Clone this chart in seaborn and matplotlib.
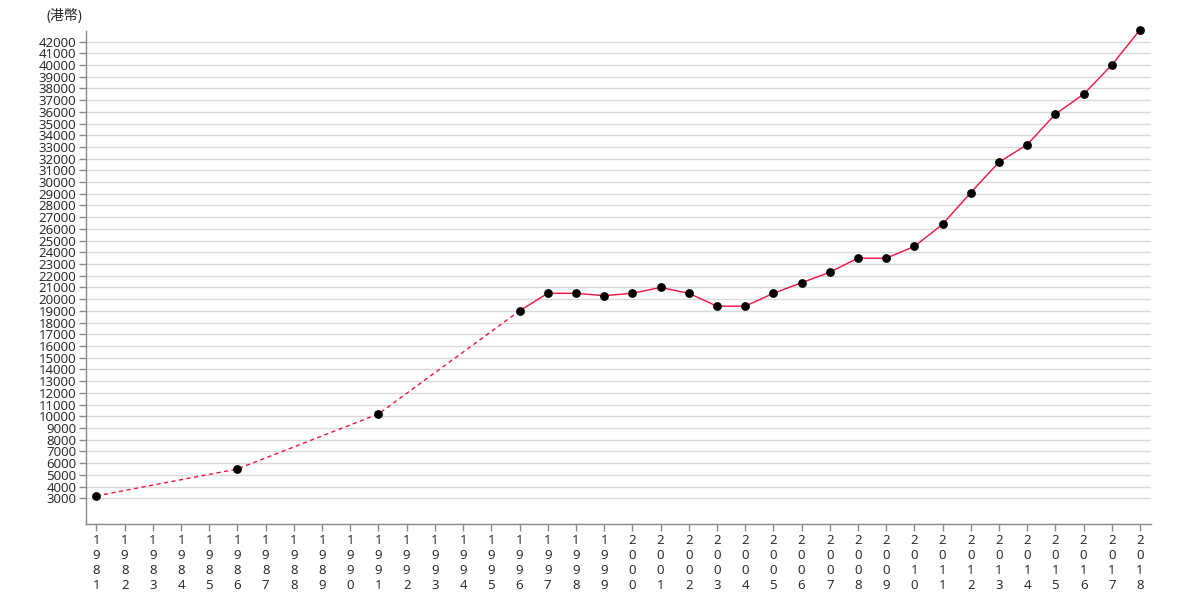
import numpy as np
import matplotlib
matplotlib.use("Agg")
import matplotlib.pyplot as plt
import pandas as pd
import seaborn as sns

# survey years and values (HK$)
years = [1981, 1986, 1991, 1996, 1997, 1998, 1999, 2000, 2001, 2002, 2003,
         2004, 2005, 2006, 2007, 2008, 2009, 2010, 2011, 2012, 2013, 2014,
         2015, 2016, 2017, 2018]
values = [3200, 5500, 10200, 19000, 20500, 20500, 20300, 20500, 21000, 20500,
          19400, 19400, 20500, 21400, 22300, 23500, 23500, 24500, 26400, 29100,
          31700, 33200, 35800, 37500, 40000, 43000]
# years only collected every 5 years -> dashed connection
sparse_years = [1981, 1986, 1991, 1996]
tick_years = list(range(1981, 2019))
y_ticks = list(range(3000, 43000, 1000))
unit_label = "(港幣)"

df = pd.DataFrame({"year": years, "value": values})
df_sparse = df[df["year"].isin(sparse_years)]
df_annual = df[df["year"] >= 1996]

sns.set_theme(style="white")
plt.rcParams['font.family'] = ['Open Sans', 'Noto Sans CJK TC', 'DejaVu Sans']

fig = plt.figure(figsize=(11.8, 6), dpi=100)
ax = fig.add_axes([86 / 1180, 1 - 524 / 600, (1151 - 86) / 1180, (524 - 31) / 600])

line_col = "#f5103f"
sns.lineplot(data=df_sparse, x="year", y="value", ax=ax, color=line_col,
             linewidth=1, linestyle=(0, (3, 2.5)))
sns.lineplot(data=df_annual, x="year", y="value", ax=ax, color=line_col,
             linewidth=1)
pts = sns.scatterplot(data=df, x="year", y="value", ax=ax, color="black", s=40,
                      edgecolor="black", linewidth=0, zorder=5)
for c in ax.collections:
    c.set_clip_on(False)

ax.set_xlim(1980.63, 2018.39)
ax.set_ylim(800, 42900)
ax.set_yticks(y_ticks)
ax.set_yticklabels([str(v) for v in y_ticks], fontsize=9.5, color="#222222")
ax.set_xticks(tick_years)
ax.set_xticklabels(["\n".join(str(y)) for y in tick_years], fontsize=9.5,
                   color="#222222", linespacing=1.22)
ax.set_xlabel("")
ax.set_ylabel("")

ax.grid(axis="y", color="#d9d9d9", linewidth=1)
ax.set_axisbelow(True)
for s in ["top", "right"]:
    ax.spines[s].set_visible(False)
for s in ["left", "bottom"]:
    ax.spines[s].set_color("#888888")
    ax.spines[s].set_linewidth(1)
ax.tick_params(axis="both", which="both", length=5, width=1, color="#888888",
               direction="out", left=True, bottom=True, pad=2)

fig.text(47 / 1180, 1 - 16 / 600, unit_label, fontsize=10, color="#222222",
         va="center", ha="left")

fig.savefig("out.png", dpi=100)
